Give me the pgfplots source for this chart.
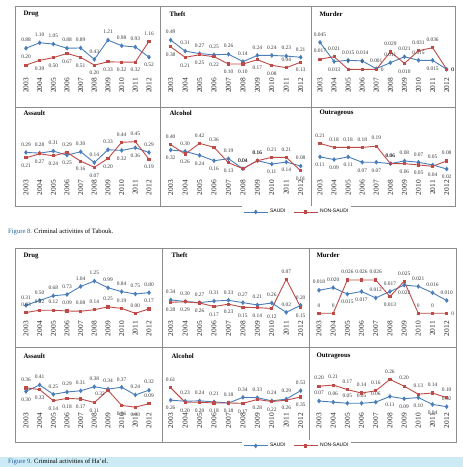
\documentclass[border=0pt]{standalone}
\usepackage{pgfplots}
\pgfplotsset{compat=1.18}
\usepackage{fontspec}
\setmainfont{Liberation Serif}
\setsansfont{Liberation Sans}
\definecolor{cb}{HTML}{4A7EBB}
\definecolor{cr}{HTML}{BE4B48}
\definecolor{frm}{HTML}{8C8C8C}
\definecolor{capblue}{HTML}{1F5F9F}
\definecolor{band}{HTML}{CDEBF5}
\newcommand{\tickfont}{\fontsize{7.4}{8}\selectfont}
\newcommand{\lblfont}{\fontsize{5.4}{6}\selectfont}
\newcommand{\ttlfont}{\fontsize{6.8}{8}\selectfont\bfseries}
\pgfplotsset{
  panel/.style={scale only axis, clip=false,
    axis line style={draw=none}, major tick length=0pt, ytick=\empty,
    xmin=2003, xmax=2012, xtick={2003,...,2012},
    xticklabels={2003,2004,2005,2006,2007,2008,2009,2010,2011,2012},
    xticklabel style={rotate=90, anchor=east, inner sep=0pt, font=\tickfont, text=black!85},
    xticklabel shift=7pt,
    anchor=south west,
    nodes near coords, point meta=explicit symbolic,
    visualization depends on={\thisrow{d} \as \ddy},
    visualization depends on={\thisrow{e} \as \ddx},
    every node near coord/.style={anchor=center, inner sep=0pt, font=\lblfont, text=black!78,
      yshift=\ddy*8pt, xshift=\ddx*1pt},
  },
  sb/.style={color=cb, line width=0.9pt, mark=diamond*, mark size=1.7pt},
  sr/.style={color=cr, line width=0.9pt, mark=square*, mark size=1.1pt},
}
\begin{document}
\begin{tikzpicture}[x=1pt,y=1pt]
\useasboundingbox (0,0) rectangle (463,467);
\fill[white] (0,0) rectangle (463,467);
% ---------- frames ----------
\draw[frm, line width=0.5pt] (15,461) rectangle (455,261);
\draw[frm, line width=0.5pt] (160,461) -- (160,261) (311,461) -- (311,261) (15,360) -- (455,360);
\draw[frm, line width=0.5pt] (15,219) rectangle (456,25);
\draw[frm, line width=0.5pt] (162,219) -- (162,25) (309,219) -- (309,25) (15,120) -- (456,120);
% ---------- titles ----------
\node[anchor=west, font=\ttlfont] at (20,453) {Drug};
\node[anchor=west, font=\ttlfont] at (166,453) {Theft};
\node[anchor=west, font=\ttlfont] at (316,453) {Murder};
\node[anchor=west, font=\ttlfont] at (20,354) {Assault};
\node[anchor=west, font=\ttlfont] at (166,354) {Alcohol};
\node[anchor=west, font=\ttlfont] at (316,354) {Outrageous};
\node[anchor=west, font=\ttlfont] at (20,211) {Drug};
\node[anchor=west, font=\ttlfont] at (168,212) {Theft};
\node[anchor=west, font=\ttlfont] at (313,212) {Murder};
\node[anchor=west, font=\ttlfont] at (20,111) {Assault};
\node[anchor=west, font=\ttlfont] at (168,111) {Alcohol};
\node[anchor=west, font=\ttlfont] at (313,111) {Outrageous};
% ---------- captions ----------
\fill[band] (0,0) rectangle (463,10);
\node[anchor=west, font=\fontsize{6.6}{8}\selectfont, inner sep=0pt] at (8,235) {\textcolor{capblue}{Figure 8.} Criminal activities of Tabouk.};
\node[anchor=west, font=\fontsize{6.6}{8}\selectfont, inner sep=0pt] at (8,5.5) {\textcolor{capblue}{Figure 9.} Criminal activities of Ha'el.};

% ===================== TABOUK =====================
\begin{axis}[panel, at={(26pt,396pt)}, width=123pt, height=35pt, ymin=-0.04, ymax=1.374]
\addplot[sb] table[meta=l]{
x y l d e
2003 0.88 0.88 1 0
2004 1.10 1.10 1 0
2005 1.05 1.05 1 0
2006 0.88 0.88 1 0
2007 0.89 0.89 1 0
2008 0.43 0.43 1 0
2009 1.21 1.21 1 0
2010 0.98 0.98 1 0
2011 0.93 0.93 1 0
2012 0.52 0.52 -1 0
};
\addplot[sr] table[meta=l]{
x y l d e
2003 0.20 0.20 1 0
2004 0.39 0.39 -1 0
2005 0.50 0.50 -1 0
2006 0.67 0.67 -1 0
2007 0.51 0.51 -1 0
2008 0.20 0.20 -1 0
2009 0.33 0.33 -1 0
2010 0.32 0.32 -1 0
2011 0.32 0.32 -1 0
2012 1.16 1.16 1 0
};
\end{axis}

\begin{axis}[panel, at={(170.7pt,396pt)}, width=130pt, height=35pt, ymin=-0.013, ymax=0.556]
\addplot[sb] table[meta=l]{
x y l d e
2003 0.49 0.49 1 0
2004 0.31 0.31 1 0
2005 0.27 0.27 1 0
2006 0.25 0.25 1 0
2007 0.26 0.26 1 0
2008 0.14 0.14 1 0
2009 0.24 0.24 1 0
2010 0.24 0.24 1 0
2011 0.23 0.23 1 0
2012 0.21 0.21 1 0
};
\addplot[sr] table[meta=l]{
x y l d e
2003 0.38 0.38 -1 0
2004 0.21 0.21 -1 0
2005 0.25 0.25 -1 0
2006 0.22 0.22 -1 0
2007 0.10 0.10 -1 0
2008 0.10 0.10 -1 0
2009 0.17 0.17 -1 0
2010 0.08 0.08 -1 0
2011 0.04 0.04 1 0
2012 0.13 0.13 -1 0
};
\end{axis}

\begin{axis}[panel, at={(320pt,396pt)}, width=126.7pt, height=35pt, ymin=-0.0028, ymax=0.0555]
\addplot[sb] table[meta=l]{
x y l d e
2003 0.045 0.045 1 0
2004 0.013 0.013 -1 0
2005 0.015 0.015 1 0
2006 0.014 0.014 1 0
2007 0.001 0.001 1 0
2008 0.011 0.011 1 0
2009 0.021 0.021 1 0
2010 0.015 0.015 1 0
2011 0.015 0.015 -1 0
2012 0 0 0 6
};
\addplot[sr] table[meta=l]{
x y l d e
2003 0.017 0.017 1 0
2004 0.021 0.021 1 0
2005 0 0 1 0
2006 0 0 1 0
2007 0 0 0 6
2008 0.029 0.029 1 0
2009 0.010 0.010 -1 0
2010 0.031 0.031 1 0
2011 0.036 0.036 1 0
2012 0 0 0 6
};
\end{axis}

\begin{axis}[panel, at={(26pt,294pt)}, width=123pt, height=35pt, ymin=-0.015, ymax=0.504]
\addplot[sb] table[meta=l]{
x y l d e
2003 0.29 0.29 1 0
2004 0.28 0.28 1 0
2005 0.31 0.31 1 0
2006 0.25 0.25 -1 0
2007 0.30 0.30 1 0
2008 0.14 0.14 1 0
2009 0.33 0.33 1 0
2010 0.32 0.32 -1 0
2011 0.36 0.36 -1 0
2012 0.29 0.29 1 0
};
\addplot[sr] table[meta=l]{
x y l d e
2003 0.21 0.21 -1 0
2004 0.27 0.27 -1 0
2005 0.24 0.24 -1 0
2006 0.29 0.29 1 0
2007 0.16 0.16 -1 0
2008 0.07 0.07 -1 0
2009 0.20 0.20 -1 0
2010 0.44 0.44 1 0
2011 0.45 0.45 1 0
2012 0.19 0.19 -1 0
};
\end{axis}

\begin{axis}[panel, at={(170.7pt,294pt)}, width=130pt, height=35pt, ymin=-0.024, ymax=0.5,
  legend style={at={(axis description cs:0.97,-1.114)}, anchor=center, legend columns=2, draw=none,
    font=\sffamily\fontsize{5}{6}\selectfont, inner sep=1pt,
    /tikz/every even column/.append style={column sep=6pt}},
  legend image code/.code={\draw[mark repeat=2,mark phase=2] plot coordinates {(0cm,0cm) (0.42cm,0cm) (0.84cm,0cm)};}]
\addplot[sb] table[meta=l]{
x y l d e
2003 0.32 0.32 -1 0
2004 0.30 0.30 1 0
2005 0.24 0.24 -1 0
2006 0.16 0.16 -1 0
2007 0.19 0.19 1 0
2008 0.04 0.04 1 0
2009 0.16 0.16 1 0
2010 0.11 0.11 -1 0
2011 0.14 0.14 -1 0
2012 0.08 0.08 1 0
};
\addlegendentry{SAUDI}
\addplot[sr] table[meta=l]{
x y l d e
2003 0.40 0.40 1 0
2004 0.26 0.26 -1 0
2005 0.42 0.42 1 0
2006 0.36 0.36 1 0
2007 0.13 0.13 -1 0
2008 0.04 0.04 1 0
2009 0.16 0.16 1 0
2010 0.21 0.21 1 0
2011 0.21 0.21 1 0
2012 0.01 0.01 -1 0
};
\addlegendentry{NON-SAUDI}
\end{axis}

\begin{axis}[panel, at={(320pt,294pt)}, width=126.7pt, height=35pt, ymin=-0.0096, ymax=0.25]
\addplot[sb] table[meta=l]{
x y l d e
2003 0.11 0.11 -1 0
2004 0.09 0.09 -1 0
2005 0.11 0.11 -1 0
2006 0.07 0.07 -1 0
2007 0.07 0.07 -1 0
2008 0.06 0.06 1 0
2009 0.08 0.08 1 0
2010 0.07 0.07 1 0
2011 0.05 0.05 1 0
2012 0.02 0.02 -1 0
};
\addplot[sr] table[meta=l]{
x y l d e
2003 0.21 0.21 1 0
2004 0.18 0.18 1 0
2005 0.18 0.18 1 0
2006 0.18 0.18 1 0
2007 0.19 0.19 1 0
2008 0.06 0.06 1 0
2009 0.06 0.06 -1 0
2010 0.05 0.05 -1 0
2011 0.04 0.04 -1 0
2012 0.08 0.08 1 0
};
\end{axis}

% ===================== HA'EL =====================
\begin{axis}[panel, at={(26pt,153pt)}, width=123pt, height=38pt, ymin=-0.027, ymax=1.446]
\addplot[sb] table[meta=l]{
x y l d e
2003 0.31 0.31 1 0
2004 0.50 0.50 1 0
2005 0.68 0.68 1 0
2006 0.73 0.73 1 0
2007 1.04 1.04 1 0
2008 1.25 1.25 1 0
2009 0.99 0.99 1 0
2010 0.84 0.84 1 0
2011 0.75 0.75 1 0
2012 0.80 0.80 1 0
};
\addplot[sr] table[meta=l]{
x y l d e
2003 0.03 0.03 1 0
2004 0.12 0.12 1 0
2005 0.12 0.12 1 0
2006 0.09 0.09 1 0
2007 0.08 0.08 1 0
2008 0.14 0.14 1 0
2009 0.25 0.25 1 0
2010 0.19 0.19 1 0
2011 0.00 0.00 1 0
2012 0.17 0.17 1 0
};
\end{axis}

\begin{axis}[panel, at={(170.7pt,153pt)}, width=130pt, height=38pt, ymin=-0.023, ymax=0.956]
\addplot[sb] table[meta=l]{
x y l d e
2003 0.34 0.34 1 0
2004 0.30 0.30 1 0
2005 0.27 0.27 1 0
2006 0.31 0.31 1 0
2007 0.33 0.33 1 0
2008 0.27 0.27 1 0
2009 0.21 0.21 1 0
2010 0.26 0.26 1 0
2011 0.02 0.02 1 0
2012 0.20 0.20 1 0
};
\addplot[sr] table[meta=l]{
x y l d e
2003 0.28 0.28 -1 0
2004 0.29 0.29 -1 0
2005 0.26 0.26 -1 0
2006 0.17 0.17 -1 0
2007 0.23 0.23 -1 0
2008 0.15 0.15 -1 0
2009 0.14 0.14 -1 0
2010 0.12 0.12 -1 0
2011 0.87 0.87 1 0
2012 0.15 0.15 -1 0
};
\end{axis}

\begin{axis}[panel, at={(319pt,153pt)}, width=127.7pt, height=38pt, ymin=-0.00055, ymax=0.0291]
\addplot[sb] table[meta=l]{
x y l d e
2003 0.018 0.018 1 0
2004 0.020 0.020 1 0
2005 0.015 0.015 -1 0
2006 0.017 0.017 -1 0
2007 0.012 0.012 1 0
2008 0.017 0.017 1 0
2009 0.022 0.022 -1 0
2010 0.021 0.021 1 0
2011 0.016 0.016 1 0
2012 0.010 0.010 1 0
};
\addplot[sr] table[meta=l]{
x y l d e
2003 0 0 1 0
2004 0 0 1 0
2005 0.026 0.026 1 0
2006 0.026 0.026 1 0
2007 0.026 0.026 1 0
2008 0.013 0.013 -1 0
2009 0.025 0.025 1 0
2010 0 0 1 0
2011 0 0 1 0
2012 0 0 0 6
};
\end{axis}

\begin{axis}[panel, at={(26pt,61pt)}, width=123pt, height=38pt, ymin=0.05, ymax=0.70]
\addplot[sb] table[meta=l]{
x y l d e
2003 0.30 0.30 -1 0
2004 0.41 0.41 1 0
2005 0.25 0.25 1 0
2006 0.29 0.29 1 0
2007 0.31 0.31 1 0
2008 0.38 0.38 1 0
2009 0.34 0.34 1 0
2010 0.37 0.37 1 0
2011 0.24 0.24 1 0
2012 0.32 0.32 1 0
};
\addplot[sr] table[meta=l]{
x y l d e
2003 0.36 0.36 1 0
2004 0.33 0.33 -1 0
2005 0.14 0.14 -1 0
2006 0.18 0.18 -1 0
2007 0.17 0.17 -1 0
2008 0.11 0.11 -1 0
2009 0.32 0.32 -0.4 -8
2010 0.06 0.06 -1 0
2011 0.03 0.03 -1 0
2012 0.09 0.09 1 0
};
\end{axis}

\begin{axis}[panel, at={(170.7pt,61pt)}, width=130pt, height=38pt, ymin=0.094, ymax=1.173,
  legend style={at={(axis description cs:0.97,-1.05)}, anchor=center, legend columns=2, draw=none,
    font=\sffamily\fontsize{5}{6}\selectfont, inner sep=1pt,
    /tikz/every even column/.append style={column sep=6pt}},
  legend image code/.code={\draw[mark repeat=2,mark phase=2] plot coordinates {(0cm,0cm) (0.42cm,0cm) (0.84cm,0cm)};}]
\addplot[sb] table[meta=l]{
x y l d e
2003 0.26 0.26 -1 0
2004 0.23 0.23 1 0
2005 0.24 0.24 1 0
2006 0.21 0.21 1 0
2007 0.18 0.18 1 0
2008 0.34 0.34 1 0
2009 0.33 0.33 1 0
2010 0.24 0.24 1 0
2011 0.29 0.29 1 0
2012 0.53 0.53 1 0
};
\addlegendentry{SAUDI}
\addplot[sr] table[meta=l]{
x y l d e
2003 0.61 0.61 1 0
2004 0.20 0.20 -1 0
2005 0.20 0.20 -1 0
2006 0.18 0.18 -1 0
2007 0.18 0.18 -1 0
2008 0.17 0.17 -1 0
2009 0.28 0.28 -1 0
2010 0.22 0.22 -1 0
2011 0.26 0.26 -1 0
2012 0.35 0.35 -1 0
};
\addlegendentry{NON-SAUDI}
\end{axis}

\begin{axis}[panel, at={(319pt,61pt)}, width=127.7pt, height=38pt, ymin=0.026, ymax=0.36]
\addplot[sb] table[meta=l]{
x y l d e
2003 0.07 0.07 1 0
2004 0.06 0.06 1 0
2005 0.05 0.05 1 0
2006 0.05 0.05 1 0
2007 0.06 0.06 1 0
2008 0.11 0.11 -1 0
2009 0.09 0.09 -1 0
2010 0.10 0.10 -1 0
2011 0.04 0.04 -1 0
2012 0.02 0.02 1 0
};
\addplot[sr] table[meta=l]{
x y l d e
2003 0.20 0.20 1 0
2004 0.21 0.21 1 0
2005 0.17 0.17 1 0
2006 0.14 0.14 1 0
2007 0.16 0.16 1 0
2008 0.26 0.26 1 0
2009 0.20 0.20 1 0
2010 0.13 0.13 1 0
2011 0.14 0.14 1 0
2012 0.10 0.10 1 0
};
\end{axis}
\end{tikzpicture}
\end{document}
